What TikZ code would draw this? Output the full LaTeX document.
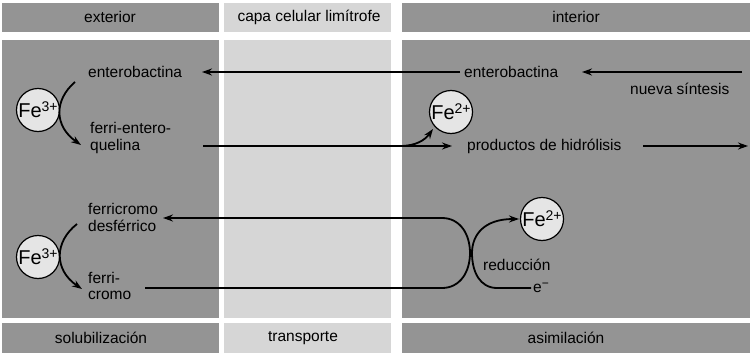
\documentclass[tikz,border=0pt]{standalone}
\usepackage{fontspec}
\setmainfont{Liberation Sans}
\usetikzlibrary{arrows.meta}
\definecolor{darkbg}{gray}{0.58}
\definecolor{lightbg}{gray}{0.84}
\definecolor{ionfill}{gray}{0.9}
\newcommand{\supr}[1]{\raisebox{0.6ex}{\fontsize{14}{14}\selectfont #1}}
\newcommand{\esupr}[1]{\raisebox{0.55ex}{\fontsize{12}{12}\selectfont #1}}
\begin{document}
\begin{tikzpicture}[x=1pt,y=-1pt,
  txt/.style={font=\fontsize{15.5}{16}\selectfont, inner sep=0pt, anchor=west},
  ctxt/.style={font=\fontsize{15.5}{16}\selectfont, inner sep=0pt},
  flow/.style={line width=1.8pt, -{Stealth[length=10pt,width=7pt]}},
  plain/.style={line width=1.8pt},
  ion/.style={circle, draw, line width=1.2pt, fill=ionfill, minimum size=43pt, inner sep=0pt, font=\fontsize{20}{20}\selectfont}]
\useasboundingbox (0,0) rectangle (754,353);
\fill[white] (0,0) rectangle (754,353);
% column backgrounds
\fill[darkbg] (2,3) rectangle (219,32);
\fill[lightbg] (224,3) rectangle (391,32);
\fill[darkbg] (402,3) rectangle (750,32);
\fill[darkbg] (2,40) rectangle (219,318);
\fill[lightbg] (224,40) rectangle (391,318);
\fill[darkbg] (402,40) rectangle (750,318);
\fill[darkbg] (2,323) rectangle (219,353);
\fill[lightbg] (224,323) rectangle (391,353);
\fill[darkbg] (402,323) rectangle (750,353);
% headers and footers
\node[ctxt] (hext) at (110,17) {exterior};
\node[ctxt] (hcap) at (309,17) {capa celular limítrofe};
\node[ctxt] (hint) at (576,17) {interior};
\node[ctxt] (fsol) at (101,338) {solubilización};
\node[ctxt] (ftra) at (303,338) {transporte};
\node[ctxt] (fasi) at (566,338) {asimilación};
% texts
\node[txt] (ent1) at (88,72) {enterobactina};
\node[txt] (ent2) at (464,72) {enterobactina};
\node[txt] (nueva) at (630,89) {nueva síntesis};
\node[txt] (fea) at (90,128) {ferri-entero-};
\node[txt] (feb) at (90,146) {quelina};
\node[txt] (prod) at (467,146) {productos de hidrólisis};
\node[txt] (fcda) at (88,209) {ferricromo};
\node[txt] (fcdb) at (88,226) {desférrico};
\node[txt] (fca) at (88,278) {ferri-};
\node[txt] (fcb) at (88,295) {cromo};
\node[txt] (red) at (483,265) {reducción};
\node[txt] (elec) at (533,288) {e\esupr{−}};
% ions
\node[ion] (fe3a) at (38,110) {Fe\supr{3+}};
\node[ion] (fe2a) at (451,112) {Fe\supr{2+}};
\node[ion] (fe3b) at (38,257) {Fe\supr{3+}};
\node[ion] (fe2b) at (542,219) {Fe\supr{2+}};
% coordinates for connector ends
\coordinate (e1s) at (460,72);
\coordinate (e1t) at (202,72);
\coordinate (nss) at (742,72);
\coordinate (nst) at (582,72);
\coordinate (q0) at (203,146);
\coordinate (qsplit) at (400,146);
\coordinate (qt) at (452,146);
\coordinate (ft) at (433,129);
\coordinate (ps) at (643,146);
\coordinate (pt) at (748,146);
\coordinate (c1s) at (75,82);
\coordinate (c1t) at (81,145);
\coordinate (c2s) at (77,224);
\coordinate (c2t) at (82,289);
\coordinate (l0) at (145,288);
\coordinate (lt) at (163,218);
\coordinate (r0) at (531,288);
\coordinate (rt) at (519,219);
% connectors
\draw[flow] (e1s) -- (e1t);
\draw[flow] (nss) -- (nst);
\draw[flow] (q0) -- (qt);
\draw[flow] (qsplit) .. controls (416,146) and (425,140) .. (ft);
\draw[flow] (ps) -- (pt);
\draw[flow] (c1s) .. controls (54,100) and (54,126) .. (c1t);
\draw[flow] (c2s) .. controls (54,242) and (54,270) .. (c2t);
\draw[flow] (l0) -- (442,288) .. controls (460,288) and (470,272) .. (470,253)
   .. controls (470,234) and (460,218) .. (442,218) -- (lt);
\draw[flow] (r0) -- (497,288) .. controls (480,288) and (472,272) .. (472,253)
   .. controls (472,235) and (484,219) .. (rt);
\end{tikzpicture}
\end{document}
